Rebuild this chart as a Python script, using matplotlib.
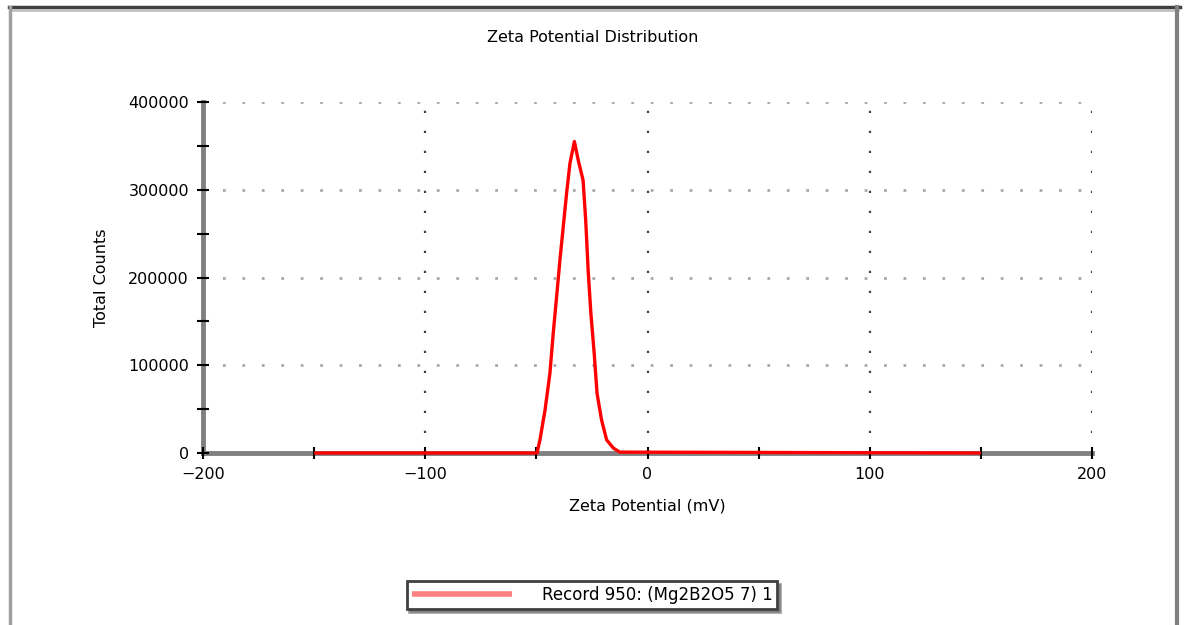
import matplotlib
matplotlib.use("Agg")
from matplotlib import pyplot as plt
from matplotlib.lines import Line2D
from matplotlib.ticker import MultipleLocator

plt.rcParams['font.family'] = ['DejaVu Sans']

# zeta potential (mV) vs total counts
zeta = [-150, -49.7, -48.4, -46.1, -43.9, -42.4, -40.9, -39.4, -37.9, -36.4,
        -34.9, -32.9, -31.2, -29.0, -27.8, -26.7, -25.5, -24.0, -22.7, -20.7,
        -18.4, -15.4, -12.5, 150]
counts = [0, 0, 14800, 49000, 91000, 137000, 178000, 220000, 258000, 296000,
          330000, 355000, 334000, 311000, 265000, 208000, 160000, 114000, 68000,
          38000, 15000, 5700, 1000, 0]

label = "Record 950: (Mg2B2O5 7) 1"

fig = plt.figure(figsize=(11.84, 6.25), dpi=100)
W, H = 1184, 625
ax = fig.add_axes([203 / W, 1 - 453 / H, (1092 - 203) / W, (453 - 102) / H])

ax.plot(zeta, counts, color="#ff0000", lw=2.4, label=label, zorder=10,
        solid_capstyle="butt", clip_on=False)

ax.set_xlim(-200, 200)
ax.set_ylim(0, 400000)
ax.set_xticks([-200, -100, 0, 100, 200])
ax.xaxis.set_minor_locator(MultipleLocator(50))
ax.set_yticks([0, 100000, 200000, 300000, 400000])
ax.yaxis.set_minor_locator(MultipleLocator(50000))

for s in ["top", "right"]:
    ax.spines[s].set_visible(False)
for s in ["left", "bottom"]:
    ax.spines[s].set_color("#808080")
    ax.spines[s].set_linewidth(3.5)
    ax.spines[s].set_zorder(1.5)

ax.tick_params(which="both", direction="inout", color="black", width=1.5)
ax.tick_params(which="major", length=8, labelsize=11.5, pad=6)
ax.tick_params(which="minor", length=8)

# dotted grid
for v in [-100, 0, 100, 200]:
    ax.axvline(v, color="#404040", lw=1.6, ls=(0, (1, 8)), zorder=1)
for h in [100000, 200000, 300000, 400000]:
    ax.axhline(h, color="#a8a8a8", lw=2, ls=(0, (1, 6)), zorder=1)

ax.set_xlabel("Zeta Potential (mV)", fontsize=11.5, labelpad=12)
ax.set_ylabel("Total Counts", fontsize=11.5, labelpad=14)
fig.text(593 / W, 1 - 38 / H, "Zeta Potential Distribution", ha="center",
         va="center", fontsize=11.5)

leg = fig.legend(loc="center", bbox_to_anchor=(592 / W, 1 - 595 / H),
                 fontsize=12, fancybox=False, shadow=True, framealpha=1,
                 handlelength=6, handletextpad=1.8, borderpad=0.3,
                 borderaxespad=0)
leg.get_frame().set_edgecolor("#404040")
leg.get_frame().set_linewidth(2)
for ln in leg.get_lines():
    ln.set_color("#ff8080")
    ln.set_linewidth(4)

# outer frame of the window
fig.add_artist(Line2D([9 / W, 1180 / W], [1 - 7 / H, 1 - 7 / H], color="#404040", lw=2.5))
fig.add_artist(Line2D([11 / W, 1178 / W], [1 - 10 / H, 1 - 10 / H], color="#c0c0c0", lw=2))
fig.add_artist(Line2D([10 / W, 10 / W], [0, 1 - 7 / H], color="#a0a0a0", lw=2.5))
fig.add_artist(Line2D([1177 / W, 1177 / W], [0, 1 - 7 / H], color="#808080", lw=3))

fig.savefig("out.png", dpi=100)
